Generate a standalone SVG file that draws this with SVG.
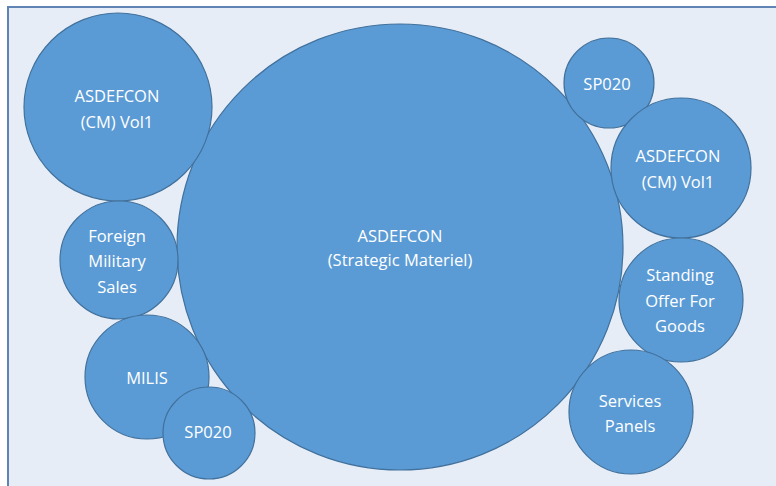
<svg xmlns="http://www.w3.org/2000/svg" width="776" height="486" viewBox="0 0 776 486">
<style>
.bg{fill:#e6edf7;stroke:#5f84b4;stroke-width:2}
.c{fill:#5b9bd5;stroke:#41719c;stroke-width:1.2}
.t{fill:#ffffff;font-family:"Open Sans","Liberation Sans",sans-serif;font-size:16.5px;text-anchor:middle}
</style>
<rect class="bg" x="8" y="7" width="780" height="490"/>
<g id="connectors"/>
<g id="n-main"><circle class="c" cx="400" cy="247" r="223"/><text class="t" x="400" y="242">ASDEFCON</text><text class="t" x="400" y="266">(Strategic Materiel)</text></g>
<g id="n-cm-left"><circle class="c" cx="118" cy="107" r="94"/><text class="t" x="117" y="102">ASDEFCON</text><text class="t" x="117" y="128">(CM) Vol1</text></g>
<g id="n-fms"><circle class="c" cx="119" cy="260" r="59"/><text class="t" x="117" y="242">Foreign</text><text class="t" x="117" y="267">Military</text><text class="t" x="117" y="293">Sales</text></g>
<g id="n-milis"><circle class="c" cx="147" cy="377" r="62"/><text class="t" x="147" y="384">MILIS</text></g>
<g id="n-sp020-bottom"><circle class="c" cx="209" cy="433" r="46"/><text class="t" x="208" y="438">SP020</text></g>
<g id="n-sp020-top"><circle class="c" cx="609" cy="83" r="45"/><text class="t" x="607" y="90">SP020</text></g>
<g id="n-cm-right"><circle class="c" cx="681" cy="168" r="70"/><text class="t" x="678" y="162">ASDEFCON</text><text class="t" x="678" y="188">(CM) Vol1</text></g>
<g id="n-sofg"><circle class="c" cx="681" cy="300" r="62"/><text class="t" x="680" y="281">Standing</text><text class="t" x="680" y="307">Offer For</text><text class="t" x="680" y="332">Goods</text></g>
<g id="n-services"><circle class="c" cx="631" cy="412" r="62"/><text class="t" x="630" y="407">Services</text><text class="t" x="630" y="432">Panels</text></g>
</svg>
